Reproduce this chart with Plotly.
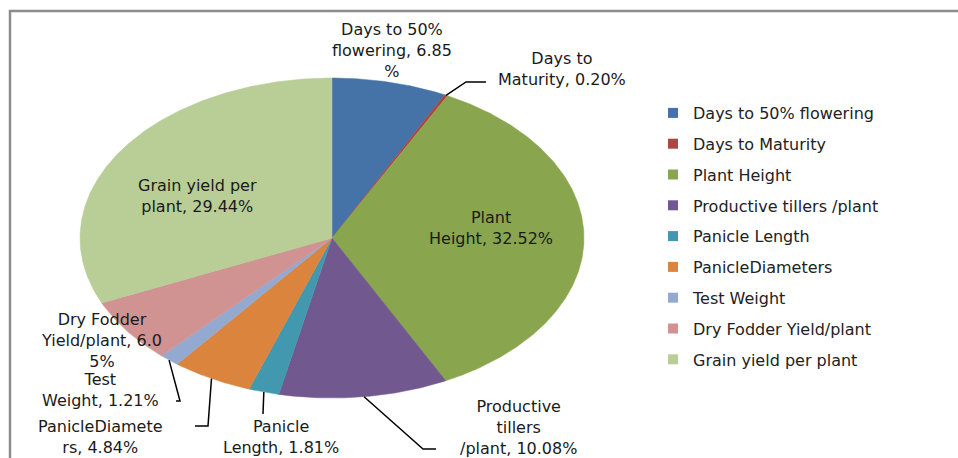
import numpy as np
import plotly.graph_objects as go

# ---------------- data ----------------
categories = [
    "Days to 50% flowering",
    "Days to Maturity",
    "Plant Height",
    "Productive tillers /plant",
    "Panicle Length",
    "PanicleDiameters",
    "Test Weight",
    "Dry Fodder Yield/plant",
    "Grain yield per plant",
]
values = [6.85, 0.20, 32.52, 10.08, 1.81, 4.84, 1.21, 6.05, 29.44]
label_texts = [
    "Days to 50%<br>flowering, 6.85<br>%",
    "Days to<br>Maturity, 0.20%",
    "Plant<br>Height, 32.52%",
    "Productive<br>tillers<br>/plant, 10.08%",
    "Panicle<br>Length, 1.81%",
    "PanicleDiamete<br>rs, 4.84%",
    "Test<br>Weight, 1.21%",
    "Dry Fodder<br>Yield/plant, 6.0<br>5%",
    "Grain yield per<br>plant, 29.44%",
]
colors = ["#4572A7", "#AA4643", "#89A54E", "#71588F", "#4198AF",
          "#DB843D", "#93A9CF", "#D19392", "#B9CD96"]

# ---------------- layout geometry (pixels) ----------------
W, H = 958, 458
CX, CY, RX, RY = 332, 238, 252, 160   # pie centre and radii in pixels

def p2d(px, py):
    return (px - CX) / RX, (CY - py) / RY

# label centre positions (pixels) and leader-line elbows/ends (pixels)
label_pos = {
    0: (392, 50), 1: (562, 69), 2: (491, 228), 3: (518, 427),
    4: (281, 437), 5: (100, 437), 6: (100, 390), 7: (101, 340), 8: (197, 196),
}
leaders = {
    1: [(466, 82), (486, 82)],
    3: [(423, 449), (436, 449)],
    4: [(263, 414)],
    5: [(208, 426), (195, 426)],
    6: [(180, 401), (176, 401)],
}

fig = go.Figure()

total = sum(values)
cum = np.concatenate([[0], np.cumsum(values)])
for i, (cat, v, c) in enumerate(zip(categories, values, colors)):
    a0 = cum[i] / total * 2 * np.pi
    a1 = cum[i + 1] / total * 2 * np.pi
    n = max(3, int(np.degrees(a1 - a0)) * 2 + 2)
    th = np.linspace(a0, a1, n)
    xs = np.concatenate([[0], np.sin(th), [0]])
    ys = np.concatenate([[0], np.cos(th), [0]])
    fig.add_trace(go.Scatter(
        x=xs, y=ys, mode="lines", fill="toself", fillcolor=c,
        line=dict(color=c, width=0.5), showlegend=False,
        hoveron="fills", name=cat, text=f"{cat}: {v:.2f}%", hoverinfo="text",
    ))

# leader lines: start at slice mid-angle on the rim
for i, pts in leaders.items():
    am = (cum[i] + values[i] / 2) / total * 2 * np.pi
    xs = [np.sin(am)] + [p2d(*p)[0] for p in pts]
    ys = [np.cos(am)] + [p2d(*p)[1] for p in pts]
    fig.add_trace(go.Scatter(x=xs, y=ys, mode="lines",
                             line=dict(color="#000000", width=1.5),
                             showlegend=False, hoverinfo="skip"))

# legend entries
for cat, c in zip(categories, colors):
    fig.add_trace(go.Scatter(
        x=[None], y=[None], mode="markers", name=cat, legendgroup=cat,
        marker=dict(symbol="square", size=10, color=c),
    ))

font_family = "DejaVu Sans"
annotations = []
for i, txt in enumerate(label_texts):
    px, py = label_pos[i]
    annotations.append(dict(
        x=px / W, y=1 - py / H, xref="paper", yref="paper",
        text=txt, showarrow=False, xanchor="center", yanchor="middle",
        align="center", font=dict(family=font_family, size=16, color="#1a1a1a"),
    ))

fig.update_layout(
    width=W, height=H, autosize=False,
    margin=dict(l=0, r=0, t=0, b=0),
    paper_bgcolor="white", plot_bgcolor="white",
    xaxis=dict(range=[(0 - CX) / RX, (W - CX) / RX], visible=False, fixedrange=True),
    yaxis=dict(range=[(CY - H) / RY, CY / RY], visible=False, fixedrange=True),
    annotations=annotations,
    shapes=[dict(type="rect", xref="paper", yref="paper",
                 x0=10 / W, y0=1 - 11 / H, x1=1.02, y1=-0.02,
                 line=dict(color="#8c8c8c", width=2.5), fillcolor="rgba(0,0,0,0)")],
    legend=dict(x=653 / W, y=1 - 96 / H, xanchor="left", yanchor="top",
                font=dict(family=font_family, size=16, color="#222222"),
                tracegroupgap=7, bgcolor="rgba(0,0,0,0)", traceorder="grouped"),
    showlegend=True,
    hovermode="closest",
)

fig.write_html(
    "out.html",
    config={"displayModeBar": False},
    post_script="document.body.style.margin='0';document.body.style.padding='0';",
)
